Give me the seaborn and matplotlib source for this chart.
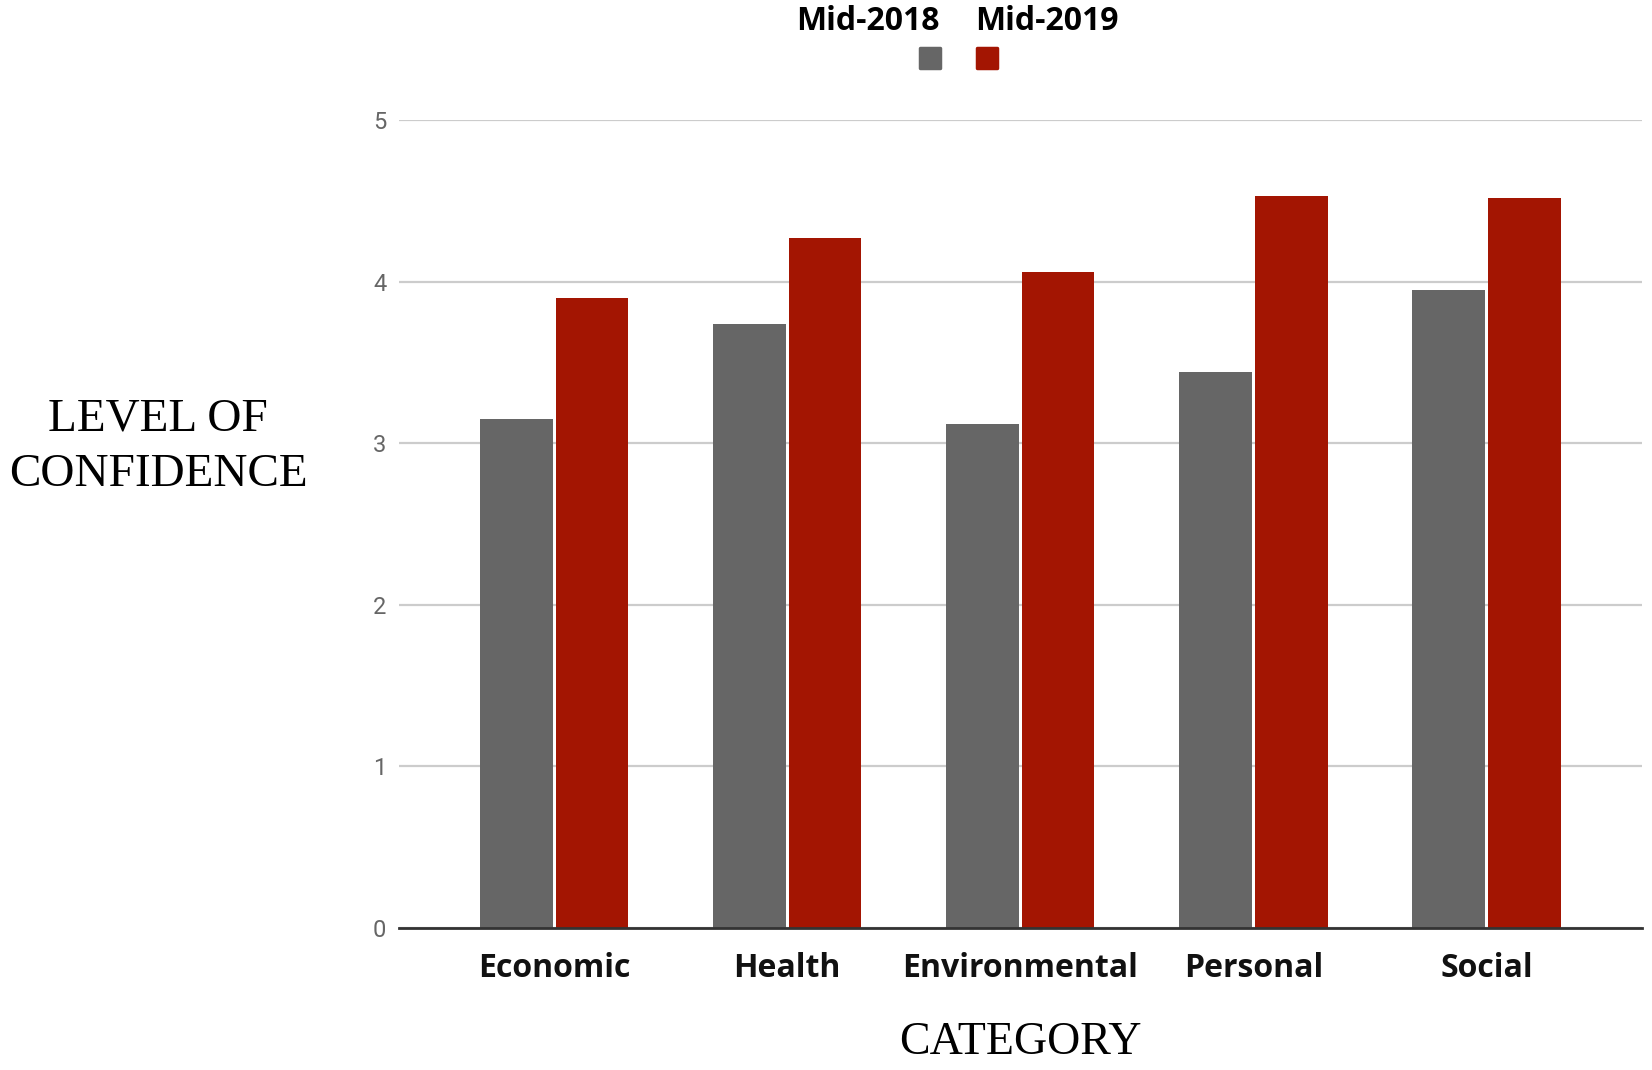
import matplotlib
matplotlib.use("Agg")
import matplotlib.pyplot as plt
import seaborn as sns
import pandas as pd
from matplotlib.lines import Line2D
from matplotlib.markers import MarkerStyle

categories = ["Economic", "Health", "Environmental", "Personal", "Social"]
series_names = ["Mid-2018", "Mid-2019"]
mid_2018 = [3.15, 3.74, 3.12, 3.44, 3.95]
mid_2019 = [3.90, 4.27, 4.06, 4.53, 4.52]
y_ticks = [0, 1, 2, 3, 4, 5]
colors = ["#666666", "#a31502"]

df = pd.DataFrame({
    "Category": categories * 2,
    "Period": [series_names[0]] * len(categories) + [series_names[1]] * len(categories),
    "Value": mid_2018 + mid_2019,
})

sns.set_theme(style="white")
W, H = 1652, 1070
fig = plt.figure(figsize=(W / 100, H / 100), dpi=100)
ax = fig.add_axes([399 / W, 1 - 928 / H, (1641.5 - 399) / W, (928 - 120) / H])

sns.barplot(data=df, x="Category", y="Value", hue="Period", palette=colors,
            width=0.65, gap=0.04, saturation=1, errorbar=None, legend=False,
            linewidth=0, ax=ax)

ax.set_xlim(-0.665, len(categories) - 1 + 0.665)
ax.set_ylim(0, 5)
ax.set_yticks(y_ticks)
ax.set_yticklabels([str(t) for t in y_ticks])
ax.yaxis.grid(True, color="#cccccc", linewidth=1.6)
ax.set_axisbelow(True)
for s in ["top", "right", "left"]:
    ax.spines[s].set_visible(False)
ax.spines["bottom"].set_color("#333333")
ax.spines["bottom"].set_linewidth(2)
ax.spines["bottom"].set_zorder(5)

ax.tick_params(axis="y", length=0, pad=9, labelsize=17, labelcolor="#666666")
ax.tick_params(axis="x", length=0, pad=17, labelsize=23, labelcolor="#111111")
for lbl in ax.get_yticklabels():
    lbl.set_fontfamily("Roboto")
for lbl in ax.get_xticklabels():
    lbl.set_fontfamily("Open Sans")
    lbl.set_fontweight("bold")

ax.set_ylabel("LEVEL OF\nCONFIDENCE", rotation=0, fontfamily="Liberation Serif",
              fontsize=34, linespacing=1.4, ha="center", va="center", color="black")
ax.yaxis.set_label_coords(-0.194, 0.595)
ax.set_xlabel("CATEGORY", fontfamily="Liberation Serif", fontsize=33,
              ha="center", va="center", color="black")
ax.xaxis.set_label_coords(0.5, -0.1415)

# legend: labels above, swatches below
fig.text(868 / W, 1 - 21 / H, series_names[0], ha="center", va="center",
         fontfamily="Open Sans", fontweight="bold", fontsize=23, color="black")
fig.text(1047 / W, 1 - 21 / H, series_names[1], ha="center", va="center",
         fontfamily="Open Sans", fontweight="bold", fontsize=23, color="black")
handles = [Line2D([], [], ls="none", marker=MarkerStyle("s", joinstyle="round"),
                  ms=15, mew=2.5, mfc=c, mec=c) for c in colors]
fig.legend(handles, ["", ""], ncol=2, loc="center",
           bbox_to_anchor=(958.5 / W, 1 - 59 / H), frameon=False,
           fontsize=14, handlelength=1.0, handletextpad=0, columnspacing=1.94,
           borderpad=0, borderaxespad=0)

fig.savefig("out.png", dpi=100, facecolor="white")
